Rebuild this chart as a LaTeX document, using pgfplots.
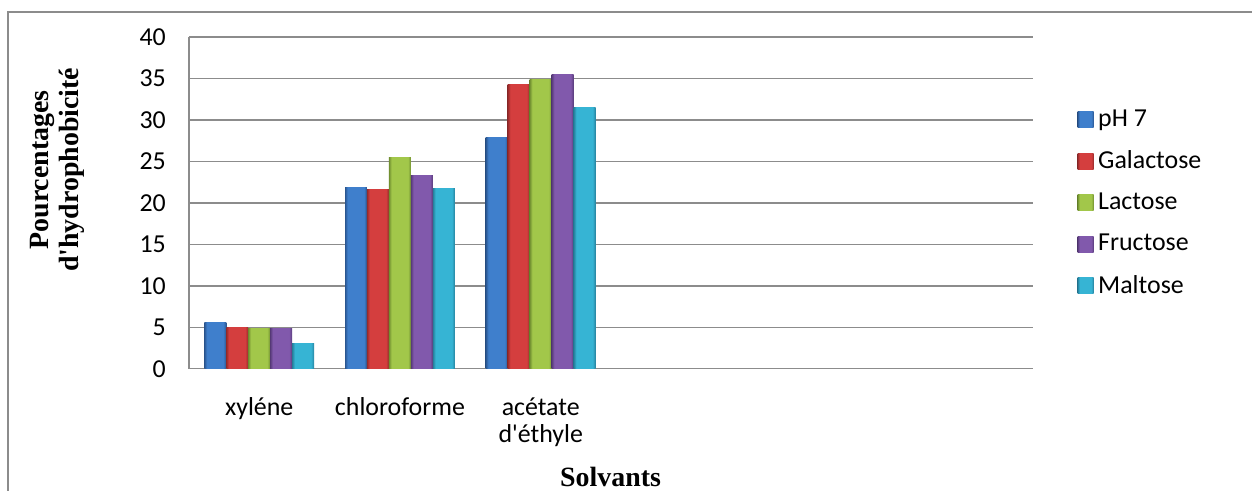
\documentclass[border=0pt]{standalone}
\usepackage{pgfplots}
\pgfplotsset{compat=1.18}
\usepackage{fontspec}
\setmainfont{Carlito}
\newfontfamily\serifb{Liberation Serif}
\definecolor{gridc}{HTML}{8C8C8C}
\definecolor{bmid}{HTML}{3F7FCC}\definecolor{bdk}{HTML}{2A5690}
\definecolor{rmid}{HTML}{D43E3E}\definecolor{rdk}{HTML}{962B2B}
\definecolor{gmid}{HTML}{A2C74A}\definecolor{gdk}{HTML}{718F30}
\definecolor{pmid}{HTML}{8159AC}\definecolor{pdk}{HTML}{583B7A}
\definecolor{cmid}{HTML}{36B4D4}\definecolor{cdk}{HTML}{26809C}
\pgfdeclarehorizontalshading{shB}{100bp}{color(0bp)=(bdk); color(25bp)=(bdk); color(31bp)=(bmid); color(68bp)=(bmid); color(75bp)=(bdk); color(100bp)=(bdk)}
\pgfdeclarehorizontalshading{shR}{100bp}{color(0bp)=(rdk); color(25bp)=(rdk); color(31bp)=(rmid); color(68bp)=(rmid); color(75bp)=(rdk); color(100bp)=(rdk)}
\pgfdeclarehorizontalshading{shG}{100bp}{color(0bp)=(gdk); color(25bp)=(gdk); color(31bp)=(gmid); color(68bp)=(gmid); color(75bp)=(gdk); color(100bp)=(gdk)}
\pgfdeclarehorizontalshading{shP}{100bp}{color(0bp)=(pdk); color(25bp)=(pdk); color(31bp)=(pmid); color(68bp)=(pmid); color(75bp)=(pdk); color(100bp)=(pdk)}
\pgfdeclarehorizontalshading{shC}{100bp}{color(0bp)=(cdk); color(25bp)=(cdk); color(31bp)=(cmid); color(68bp)=(cmid); color(75bp)=(cdk); color(100bp)=(cdk)}
\pgfplotsset{
  sB/.style={draw=none, shading=shB, shading angle=0},
  sR/.style={draw=none, shading=shR, shading angle=0},
  sG/.style={draw=none, shading=shG, shading angle=0},
  sP/.style={draw=none, shading=shP, shading angle=0},
  sC/.style={draw=none, shading=shC, shading angle=0},
}
\begin{document}
\begin{tikzpicture}
\path (0,0) rectangle (626.5bp,245.5bp);
\draw[gridc, line width=0.9bp] (4bp,0) -- (4bp,239.5bp) -- (626.5bp,239.5bp);
\begin{axis}[
  at={(94.5bp,61bp)}, anchor=south west,
  scale only axis, width=422.5bp, height=166bp,
  xmin=-0.5, xmax=5.5, ymin=0, ymax=40,
  ytick={0,5,...,40},
  xtick={0,1,2},
  xticklabels={xyléne, chloroforme, {acétate\\d\textquotesingle éthyle}},
  bar width=11bp,
  axis x line*=bottom, axis y line*=left,
  axis line style={gridc, line width=0.75bp, -},
  ymajorgrids, grid style={gridc, line width=0.75bp},
  major tick length=0pt,
  /pgf/number format/assume math mode=true,
  tick label style={font=\fontsize{13}{13.5}\selectfont},
  xticklabel style={align=center, yshift=-11bp},
  yticklabel style={xshift=-8bp},
  legend style={at={(1.045,0.5)}, anchor=west, draw=none, fill=none,
    font=\fontsize{13}{13.5}\selectfont, row sep=6.8bp,
    nodes={inner xsep=2.3bp}},
  legend cell align=left,
  legend image code/.code={\path[#1] (0bp,-4bp) rectangle (8bp,4bp);},
]
\addlegendimage{sB}\addlegendimage{sR}\addlegendimage{sG}\addlegendimage{sP}\addlegendimage{sC}
% pH 7
\addplot[ybar, bar shift=-22bp, sB, forget plot] coordinates {(0,5.6)};
\addplot[ybar, bar shift=-22bp, sB, forget plot] coordinates {(1,21.9)};
\addplot[ybar, bar shift=-22bp, sB, forget plot] coordinates {(2,27.9)};
% Galactose
\addplot[ybar, bar shift=-11bp, sR, forget plot] coordinates {(0,5.0)};
\addplot[ybar, bar shift=-11bp, sR, forget plot] coordinates {(1,21.6)};
\addplot[ybar, bar shift=-11bp, sR, forget plot] coordinates {(2,34.3)};
% Lactose
\addplot[ybar, bar shift=0bp, sG, forget plot] coordinates {(0,4.8)};
\addplot[ybar, bar shift=0bp, sG, forget plot] coordinates {(1,25.5)};
\addplot[ybar, bar shift=0bp, sG, forget plot] coordinates {(2,34.9)};
% Fructose
\addplot[ybar, bar shift=11bp, sP, forget plot] coordinates {(0,4.8)};
\addplot[ybar, bar shift=11bp, sP, forget plot] coordinates {(1,23.3)};
\addplot[ybar, bar shift=11bp, sP, forget plot] coordinates {(2,35.5)};
% Maltose
\addplot[ybar, bar shift=22bp, sC, forget plot] coordinates {(0,3.0)};
\addplot[ybar, bar shift=22bp, sC, forget plot] coordinates {(1,21.7)};
\addplot[ybar, bar shift=22bp, sC, forget plot] coordinates {(2,31.5)};
\legend{pH 7, Galactose, Lactose, Fructose, Maltose}
\end{axis}
\node[rotate=90, align=center, font=\serifb\bfseries\fontsize{14}{15}\selectfont] at (28.5bp,160.5bp) {Pourcentages\\d\textquotesingle hydrophobicité};
\node[font=\serifb\bfseries\fontsize{14}{15}\selectfont] at (305.5bp,7bp) {Solvants};
\end{tikzpicture}
\end{document}
